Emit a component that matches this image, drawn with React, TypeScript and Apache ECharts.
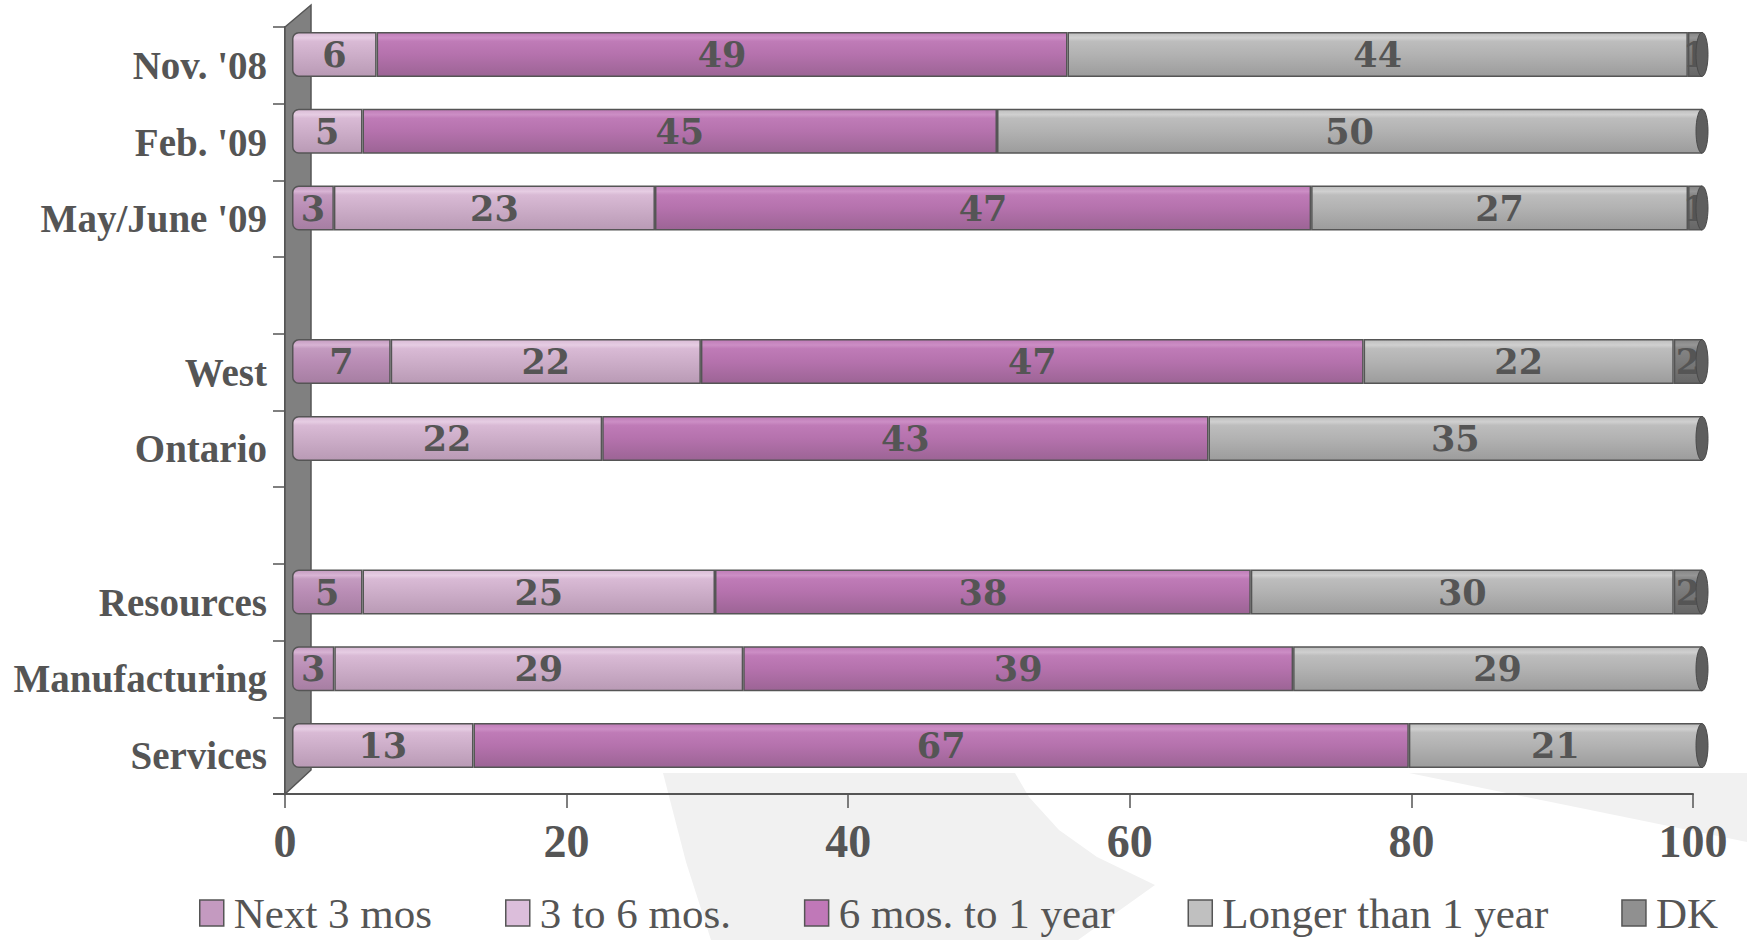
import React, { useEffect, useRef } from "react";
import * as echarts from "echarts";

const categories = ["Nov. '08", "Feb. '09", "May/June '09", " ", "West", "Ontario", "  ", "Resources", "Manufacturing", "Services"];
const seriesNames = ["Next 3 mos", "3 to 6 mos.", "6 mos. to 1 year", "Longer than 1 year", "DK"];
const next3 = [0, 0, 3, null, 7, 0, null, 5, 3, 0];
const m3to6 = [6, 5, 23, null, 22, 22, null, 25, 29, 13];
const m6to12 = [49, 45, 47, null, 47, 43, null, 38, 39, 67];
const longer = [44, 50, 27, null, 22, 35, null, 30, 29, 21];
const dk = [1, 0, 1, null, 2, 0, null, 2, 0, 0];
const xMin = 0;
const xMax = 100;
const xInterval = 20;

const legendColors = ["#c49ac0", "#dcbedb", "#c078b8", "#c0c0c0", "#909090"];
const gradStops = [
  ["#c49bc0", "#d8b4d4", "#b98db5", "#a67ea2"],
  ["#d9bad5", "#e6cde3", "#cdaec9", "#b99ab5"],
  ["#bf7bb7", "#cc8ec5", "#b572ad", "#9c6495"],
  ["#bdbdbd", "#d0d0d0", "#b2b2b2", "#9c9c9c"],
  ["#858585", "#969696", "#7a7a7a", "#666666"],
];

function grad(c: string[]) {
  return new echarts.graphic.LinearGradient(0, 0, 0, 1, [
    { offset: 0, color: c[0] },
    { offset: 0.12, color: c[1] },
    { offset: 0.2, color: c[0] },
    { offset: 0.5, color: c[2] },
    { offset: 1, color: c[3] },
  ]);
}

export default function App() {
  const ref = useRef<HTMLDivElement>(null);
  useEffect(() => {
    if (!ref.current) return;
    const chart = echarts.init(ref.current, null, { renderer: "svg" });
    const all = [next3, m3to6, m6to12, longer, dk];
    const totals = categories.map((_, i) => all.reduce((s, a) => s + (a[i] || 0), 0));
    const firstIdx = categories.map((_, i) => all.findIndex((a) => (a[i] || 0) > 0));

    const barSeries = all.map((arr, si) => ({
      name: seriesNames[si],
      type: "bar",
      stack: "total",
      xAxisIndex: 1,
      yAxisIndex: 1,
      barWidth: 45,
      clip: false,
      z: 3,
      itemStyle: {
        color: grad(gradStops[si]),
        borderColor: "#555555",
        borderWidth: 1.5,
      },
      label: {
        show: true,
        position: "inside",
        formatter: (p: any) => (p.data && p.data.raw ? String(p.data.raw) : ""),
        fontFamily: "DejaVu Serif",
        fontWeight: "bold",
        fontSize: 35,
        color: "#555555",
      },
      data: arr.map((v, i) => {
        if (!v || !totals[i]) return { value: "-", raw: 0 };
        const item: any = { value: (v / totals[i]) * 100, raw: v };
        if (firstIdx[i] === si) item.itemStyle = { borderRadius: [6, 0, 0, 6] };
        return item;
      }),
    }));

    const capData = categories
      .map((_, i) => (totals[i] ? [100, i] : null))
      .filter((d) => d !== null);

    const option: any = {
      animation: false,
      backgroundColor: "#ffffff",
      grid: [
        { left: 285, right: 54, top: 27, bottom: 146, containLabel: false },
        { left: 292, right: 45, top: 16, bottom: 156, containLabel: false },
      ],
      xAxis: [
        {
          type: "value",
          gridIndex: 0,
          min: xMin,
          max: xMax,
          interval: xInterval,
          axisLine: { show: true, lineStyle: { color: "#555555", width: 2 } },
          axisTick: { show: true, length: 14, lineStyle: { color: "#555555", width: 1.5 } },
          splitLine: { show: false },
          axisLabel: {
            margin: 24,
            fontFamily: "Liberation Serif",
            fontWeight: "bold",
            fontSize: 46,
            color: "#555555",
          },
        },
        { type: "value", gridIndex: 1, min: xMin, max: xMax, show: false },
      ],
      yAxis: [
        {
          type: "category",
          gridIndex: 0,
          inverse: true,
          data: categories,
          axisLine: { show: true, lineStyle: { color: "#555555", width: 2 } },
          axisTick: { show: true, length: 12, lineStyle: { color: "#555555", width: 1.5 } },
          axisLabel: {
            margin: 18,
            fontFamily: "Liberation Serif",
            fontWeight: "bold",
            fontSize: 39,
            color: "#555555",
          },
        },
        { type: "category", gridIndex: 1, inverse: true, data: categories, show: false },
      ],
      legend: {
        left: 194,
        top: 886,
        itemWidth: 24,
        itemHeight: 26,
        itemGap: 73,
        icon: "rect",
        itemStyle: { borderColor: "#555555", borderWidth: 1.5 },
        textStyle: {
          fontFamily: "Liberation Serif",
          fontSize: 43,
          color: "#555555",
          padding: [0, 0, 0, 5],
          lineHeight: 44,
        },
        data: seriesNames.map((n, i) => ({ name: n, itemStyle: { color: legendColors[i] } })),
      },
      graphic: [
        {
          type: "polygon",
          z: -10,
          silent: true,
          shape: {
            points: [
              [663, 773], [1015, 773], [1029, 797], [1059, 830], [1097, 857], [1155, 885],
              [1078, 940], [711, 940], [686, 862],
            ],
          },
          style: { fill: "#f1f1f1" },
        },
        {
          type: "polygon",
          z: -10,
          silent: true,
          shape: { points: [[1409, 773], [1747, 773], [1747, 842]] },
          style: { fill: "#f1f1f1" },
        },
        {
          type: "polygon",
          z: 1,
          silent: true,
          shape: { points: [[285, 27], [311, 5], [311, 770], [285, 794]] },
          style: { fill: "#808080", stroke: "#555555", lineWidth: 1.5 },
        },
        {
          type: "line",
          z: 1,
          silent: true,
          shape: { x1: 273, y1: 794, x2: 286, y2: 794 },
          style: { stroke: "#555555", lineWidth: 2 },
        },
      ],
      series: [
        ...barSeries,
        {
          type: "custom",
          name: "cap",
          xAxisIndex: 1,
          yAxisIndex: 1,
          z: 4,
          silent: true,
          encode: { x: 0, y: 1 },
          renderItem: (params: any, api: any) => {
            const p = api.coord([api.value(0), api.value(1)]);
            return {
              type: "ellipse",
              shape: { cx: p[0], cy: p[1], rx: 6, ry: 22 },
              style: { fill: "#5e5e5e", stroke: "#4a4a4a", lineWidth: 1 },
            };
          },
          data: capData,
        },
      ],
    };
    chart.setOption(option);
    return () => chart.dispose();
  }, []);
  return (
    <div
      ref={ref}
      style={{ position: "fixed", left: 0, top: 0, width: 1747, height: 940, background: "#fff" }}
    />
  );
}
